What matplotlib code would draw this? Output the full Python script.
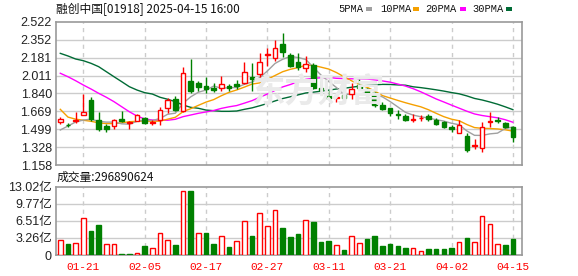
import matplotlib
matplotlib.use('Agg')
import matplotlib.pyplot as plt
from matplotlib.patches import Rectangle

# 交易日 (港股 01918)
dates = ['01-16', '01-17', '01-20', '01-21', '01-22', '01-23', '01-24', '01-27', '01-28', '02-03',
         '02-04', '02-05', '02-06', '02-07', '02-10', '02-11', '02-12', '02-13', '02-14', '02-17',
         '02-18', '02-19', '02-20', '02-21', '02-24', '02-25', '02-26', '02-27', '02-28', '03-03',
         '03-04', '03-05', '03-06', '03-07', '03-10', '03-11', '03-12', '03-13', '03-14', '03-17',
         '03-18', '03-19', '03-20', '03-21', '03-24', '03-25', '03-26', '03-27', '03-28', '03-31',
         '04-01', '04-02', '04-03', '04-07', '04-08', '04-09', '04-10', '04-11', '04-14', '04-15']

opens = [1.565, 1.541, 1.575, 1.638, 1.778, 1.587, 1.530, 1.530, 1.597, 1.560,
         1.578, 1.609, 1.556, 1.587, 1.699, 1.790, 1.676, 1.956, 1.940, 1.911,
         1.895, 1.889, 1.911, 1.930, 1.937, 1.994, 2.023, 2.205, 2.176, 2.312,
         2.207, 2.143, 2.083, 2.112, 1.892, 1.819, 1.800, 1.826, 1.835, 1.921,
         1.883, 1.848, 1.730, 1.699, 1.640, 1.625, 1.584, 1.605, 1.622, 1.587,
         1.571, 1.523, 1.466, 1.434, 1.340, 1.317, 1.568, 1.590, 1.555, 1.523]
highs = [1.616, 1.560, 1.661, 1.835, 1.806, 1.663, 1.546, 1.597, 1.676, 1.575,
         1.645, 1.620, 1.587, 1.711, 1.797, 1.816, 2.090, 2.172, 1.959, 1.994,
         1.937, 2.007, 1.930, 1.968, 2.143, 2.130, 2.223, 2.277, 2.350, 2.414,
         2.223, 2.223, 2.200, 2.130, 1.959, 1.873, 1.835, 1.835, 1.943, 1.975,
         1.892, 1.854, 1.759, 1.705, 1.682, 1.640, 1.644, 1.635, 1.644, 1.609,
         1.580, 1.536, 1.587, 1.460, 1.403, 1.571, 1.661, 1.612, 1.565, 1.530]
lows = [1.549, 1.520, 1.555, 1.635, 1.580, 1.485, 1.473, 1.501, 1.571, 1.500,
        1.575, 1.545, 1.537, 1.542, 1.651, 1.676, 1.661, 1.842, 1.866, 1.845,
        1.857, 1.866, 1.866, 1.880, 1.930, 1.866, 1.994, 2.105, 2.153, 2.191,
        2.096, 2.064, 2.042, 1.880, 1.857, 1.794, 1.762, 1.780, 1.790, 1.873,
        1.823, 1.714, 1.682, 1.628, 1.597, 1.575, 1.571, 1.580, 1.576, 1.539,
        1.514, 1.475, 1.460, 1.279, 1.310, 1.279, 1.523, 1.555, 1.514, 1.380]
closes = [1.597, 1.537, 1.585, 1.660, 1.594, 1.498, 1.498, 1.587, 1.578, 1.568,
          1.635, 1.555, 1.565, 1.682, 1.775, 1.682, 2.033, 1.866, 1.902, 1.883,
          1.873, 1.927, 1.889, 1.911, 2.042, 1.975, 2.137, 2.212, 2.271, 2.239,
          2.105, 2.090, 2.121, 1.889, 1.870, 1.800, 1.806, 1.800, 1.880, 1.889,
          1.848, 1.730, 1.692, 1.657, 1.635, 1.587, 1.600, 1.609, 1.600, 1.552,
          1.523, 1.498, 1.539, 1.301, 1.345, 1.517, 1.573, 1.575, 1.520, 1.422]

# 均线
ma5 = [1.492, 1.530, 1.568, 1.587, 1.595, 1.575, 1.567, 1.567, 1.551, 1.547,
       1.575, 1.586, 1.582, 1.602, 1.642, 1.652, 1.747, 1.808, 1.852, 1.873,
       1.911, 1.890, 1.895, 1.897, 1.928, 1.949, 1.991, 2.055, 2.127, 2.167,
       2.193, 2.183, 2.165, 2.089, 2.015, 1.954, 1.897, 1.833, 1.831, 1.835,
       1.845, 1.829, 1.808, 1.763, 1.712, 1.660, 1.634, 1.618, 1.606, 1.590,
       1.577, 1.556, 1.542, 1.483, 1.441, 1.440, 1.455, 1.462, 1.506, 1.521]
ma10 = [1.689, 1.615, 1.595, 1.585, 1.575, 1.560, 1.553, 1.553, 1.560, 1.571,
        1.575, 1.577, 1.575, 1.577, 1.595, 1.613, 1.667, 1.695, 1.727, 1.758,
        1.782, 1.819, 1.851, 1.874, 1.901, 1.930, 1.941, 1.975, 2.012, 2.048,
        2.071, 2.087, 2.110, 2.108, 2.091, 2.073, 2.040, 1.999, 1.960, 1.925,
        1.899, 1.863, 1.820, 1.797, 1.774, 1.752, 1.732, 1.713, 1.685, 1.651,
        1.619, 1.595, 1.580, 1.544, 1.515, 1.508, 1.506, 1.502, 1.494, 1.481]
ma20 = [2.033, 2.000, 1.962, 1.921, 1.883, 1.842, 1.804, 1.762, 1.714, 1.666,
        1.625, 1.597, 1.587, 1.585, 1.585, 1.594, 1.619, 1.635, 1.651, 1.664,
        1.678, 1.698, 1.713, 1.725, 1.748, 1.772, 1.804, 1.835, 1.870, 1.903,
        1.926, 1.953, 1.975, 1.985, 1.990, 1.993, 1.985, 1.982, 1.980, 1.980,
        1.978, 1.970, 1.960, 1.948, 1.930, 1.911, 1.886, 1.856, 1.822, 1.788,
        1.759, 1.729, 1.700, 1.671, 1.645, 1.630, 1.619, 1.608, 1.590, 1.566]
ma30 = [2.223, 2.198, 2.169, 2.153, 2.128, 2.096, 2.048, 2.000, 1.953, 1.905,
        1.873, 1.848, 1.835, 1.804, 1.785, 1.762, 1.730, 1.708, 1.699, 1.682,
        1.676, 1.670, 1.670, 1.673, 1.689, 1.703, 1.723, 1.745, 1.769, 1.792,
        1.809, 1.827, 1.845, 1.853, 1.862, 1.872, 1.883, 1.890, 1.900, 1.910,
        1.917, 1.923, 1.927, 1.926, 1.922, 1.919, 1.904, 1.896, 1.886, 1.875,
        1.863, 1.849, 1.837, 1.817, 1.793, 1.778, 1.759, 1.738, 1.713, 1.686]

# 成交量 (亿)
volumes = [2.86, 2.10, 2.22, 6.99, 4.58, 5.72, 2.10, 2.10, 0.19, 0.19,
           0.38, 1.72, 1.33, 4.19, 2.86, 1.91, 12.2, 12.2, 4.19, 4.19,
           2.10, 3.62, 1.53, 2.67, 6.48, 3.62, 8.01, 5.53, 8.58, 5.15,
           3.43, 4.00, 6.67, 6.35, 2.54, 2.73, 1.84, 0.95, 3.62, 2.29,
           3.05, 3.62, 1.72, 2.10, 1.72, 1.33, 1.33, 0.76, 1.14, 1.14,
           1.14, 1.33, 2.48, 3.24, 2.48, 7.44, 5.91, 2.10, 1.91, 2.969]
last_volume = '296890624'

price_ticks = [1.158, 1.328, 1.499, 1.669, 1.840, 2.011, 2.181, 2.352, 2.522]
vol_ticks = [0, 3.26, 6.51, 9.77, 13.02]
vol_labels = ['0', '3.26亿', '6.51亿', '9.77亿', '13.02亿']
date_ticks = [3, 11, 19, 27, 35, 43, 51, 59]

RED = '#ff0000'
GREEN = '#008000'
GRID = '#cccccc'
FRAME = '#999999'
CJK = ['Noto Sans CJK SC', 'DejaVu Sans']

W, H = 578, 276
fig = plt.figure(figsize=(W / 100, H / 100), dpi=100)
fig.patch.set_facecolor('white')


def fx(px):
    return px / W


def fy(py):
    return 1 - py / H


ax = fig.add_axes([fx(56), fy(165), fx(522) - fx(56), fy(22) - fy(165)])
axv = fig.add_axes([fx(56), fy(255), fx(522) - fx(56), fy(186.7) - fy(255)])

n = len(closes)
xs = list(range(n))

for a in (ax, axv):
    a.set_xlim(-0.56, 60.19)
    for s in a.spines.values():
        s.set_color(FRAME)
        s.set_linewidth(1.2)
    for t in date_ticks:
        a.axvline(t, color=GRID, lw=1, ls=(0, (3, 3)), zorder=0)
    a.tick_params(length=0)

# 价格面板
ax.set_ylim(price_ticks[0], price_ticks[-1])
ax.set_yticks(price_ticks)
ax.set_yticklabels(['%.3f' % v for v in price_ticks], fontsize=9,
                   family='Liberation Sans', color='#222222')
ax.tick_params(axis='y', pad=3)
ax.set_xticks([])
for v in price_ticks[1:-1]:
    ax.axhline(v, color=GRID, lw=1, zorder=0)

# 水印
fig.text(fx(318), fy(93), '东方财富', fontsize=24, fontweight='bold', family=CJK,
         color='#eaeaea', ha='center', va='center', zorder=1)

ax.patch.set_alpha(0)
ax.plot(xs, ma30, color='#006b35', lw=1, zorder=2)
ax.plot(xs, ma20, color='#ff00ff', lw=1, zorder=2)
ax.plot(xs, ma10, color='#f5a000', lw=1, zorder=2)
ax.plot(xs, ma5, color='#a0a0a0', lw=1, zorder=2)

bw = 0.6
for i in xs:
    o, h, l, c = opens[i], highs[i], lows[i], closes[i]
    up = c >= o
    col = RED if up else GREEN
    ax.vlines(i, l, h, color=col, lw=1, zorder=3)
    lo = min(o, c)
    hgt = max(abs(c - o), 0.004)
    ax.bar(i, hgt, bottom=lo, width=bw, facecolor='white' if up else col,
           edgecolor=col, linewidth=1, zorder=4)

# 成交量面板
axv.set_ylim(0, 13.02)
axv.set_yticks(vol_ticks)
axv.set_yticklabels(vol_labels, fontsize=9, family=['Liberation Sans', 'Noto Sans CJK SC'],
                    color='#222222')
axv.tick_params(axis='y', pad=3)
for v in vol_ticks[1:-1]:
    axv.axhline(v, color=GRID, lw=1, zorder=0)
axv.set_xticks(date_ticks)
axv.set_xticklabels([dates[t] for t in date_ticks], fontsize=8,
                    family='Liberation Mono', color=RED)
axv.tick_params(axis='x', pad=5)

for i in xs:
    rise = True if i == 0 else closes[i] >= closes[i - 1]
    col = RED if rise else GREEN
    axv.bar(i, volumes[i], width=bw, facecolor='white' if rise else col,
            edgecolor=col, linewidth=1, zorder=3)

# 标题与图例
fig.text(fx(56), fy(9), '融创中国[01918] 2025-04-15 16:00', fontsize=8.5,
         family=CJK, color='#111111', va='center', ha='left')
fig.text(fx(57), fy(177), '成交量:' + last_volume, fontsize=8.5,
         family=CJK, color='#111111', va='center', ha='left')

legend = [('5PMA', 338, 366, '#a0a0a0'), ('10PMA', 380, 413, '#f5a000'),
          ('20PMA', 425, 460, '#ff00ff'), ('30PMA', 472, 506, '#006b35')]
for name, tx, sx, col in legend:
    fig.text(fx(tx), fy(9), name, fontsize=7.5, family='Liberation Mono',
             color='#111111', va='center', ha='left')
    fig.patches.append(Rectangle((fx(sx), fy(11)), 6 / W, 4 / H, transform=fig.transFigure,
                                 facecolor=col, edgecolor='none'))

fig.savefig('out.png', dpi=100, facecolor='white')
